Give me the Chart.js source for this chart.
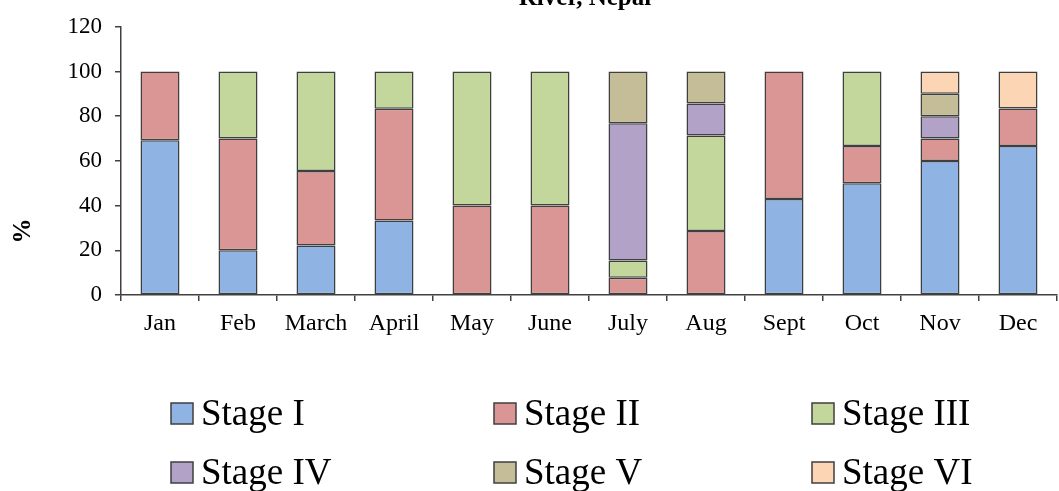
<!DOCTYPE html>
<html>
<head>
<meta charset="utf-8">
<script src="https://cdn.jsdelivr.net/npm/chart.js@4"></script>
<style>
  html, body { margin: 0; padding: 0; background: #fff; }
  #wrap { width: 1059px; height: 491px; }
</style>
</head>
<body>
<div id="wrap"><canvas id="stageChart" width="1059" height="491"></canvas></div>
<script>
// Months and share (%) of each stage
const months = ['Jan', 'Feb', 'March', 'April', 'May', 'June', 'July', 'Aug', 'Sept', 'Oct', 'Nov', 'Dec'];
const stageNames = ['Stage I', 'Stage II', 'Stage III', 'Stage IV', 'Stage V', 'Stage VI'];
const stage1 = [69.2, 20, 22.2, 33.3, null, null, null, null, 42.9, 50, 60, 66.7];
const stage2 = [30.8, 50, 33.3, 50, 40, 40, 7.7, 28.6, 57.1, 16.7, 10, 16.7];
const stage3 = [null, 30, 44.5, 16.7, 60, 60, 7.7, 42.8, null, 33.3, null, null];
const stage4 = [null, null, null, null, null, null, 61.5, 14.3, null, null, 10, null];
const stage5 = [null, null, null, null, null, null, 23.1, 14.3, null, null, 10, null];
const stage6 = [null, null, null, null, null, null, null, null, null, null, 10, 16.6];
const yTicks = [0, 20, 40, 60, 80, 100, 120];

const colors = ['#8fb4e3', '#d99694', '#c3d69b', '#b3a2c7', '#c4bd97', '#fcd5b5'];
const seriesList = [stage1, stage2, stage3, stage4, stage5, stage6];
const serif = "'Liberation Serif', 'Times New Roman', serif";

// top title (cut off in the original), the "%" axis title and the 3-column legend
const extras = {
    id: 'extras',
    afterDraw(chart) {
        const c = chart.ctx;
        c.save();
        c.fillStyle = '#000';
        c.font = 'bold 25px ' + serif;
        c.textAlign = 'center';
        c.textBaseline = 'alphabetic';
        c.fillText('River, Nepal', 585, 5);

        c.save();
        c.translate(24, 231);
        c.rotate(-Math.PI / 2);
        c.font = 'bold 25px ' + serif;
        c.textBaseline = 'middle';
        c.fillText('%', 0, 0);
        c.restore();

        const colX = [171, 494, 812];
        const rowY = [414, 473];
        c.font = '37px ' + serif;
        c.textAlign = 'left';
        c.textBaseline = 'middle';
        chart.data.datasets.forEach((ds, i) => {
            const x = colX[i % 3];
            const y = rowY[Math.floor(i / 3)];
            c.fillStyle = ds.backgroundColor;
            c.fillRect(x, y - 11, 22, 21);
            c.strokeStyle = '#3f3f3f';
            c.lineWidth = 1.5;
            c.strokeRect(x, y - 11, 22, 21);
            c.fillStyle = '#000';
            c.fillText(ds.label, x + 30, y + 1);
        });
        c.restore();
    }
};

new Chart(document.getElementById('stageChart'), {
    type: 'bar',
    data: {
        labels: months,
        datasets: seriesList.map((d, i) => ({
            label: stageNames[i],
            data: d,
            backgroundColor: colors[i],
            borderColor: '#3f3f3f',
            borderWidth: 1.5,
            borderSkipped: false,
            categoryPercentage: 1,
            barPercentage: 0.5
        }))
    },
    options: {
        responsive: false,
        animation: false,
        layout: { padding: { top: 23, right: 2, bottom: 146, left: 0 } },
        plugins: {
            legend: { display: false },
            tooltip: { enabled: false }
        },
        scales: {
            x: {
                stacked: true,
                afterFit: s => { s.height = 50; },
                grid: { drawOnChartArea: false, tickLength: 6, color: '#404040', lineWidth: 1.5 },
                border: { color: '#404040', width: 1.5 },
                ticks: { color: '#000', font: { family: serif, size: 24 }, padding: 8 }
            },
            y: {
                stacked: true,
                min: 0,
                max: 120,
                afterFit: s => { s.width = 121; },
                afterBuildTicks: s => { s.ticks = yTicks.map(v => ({ value: v })); },
                grid: { drawOnChartArea: false, tickLength: 6, color: '#404040', lineWidth: 1.5 },
                border: { color: '#404040', width: 1.5 },
                ticks: { color: '#000', font: { family: serif, size: 23 }, padding: 13 }
            }
        }
    },
    plugins: [extras]
});
</script>
</body>
</html>
